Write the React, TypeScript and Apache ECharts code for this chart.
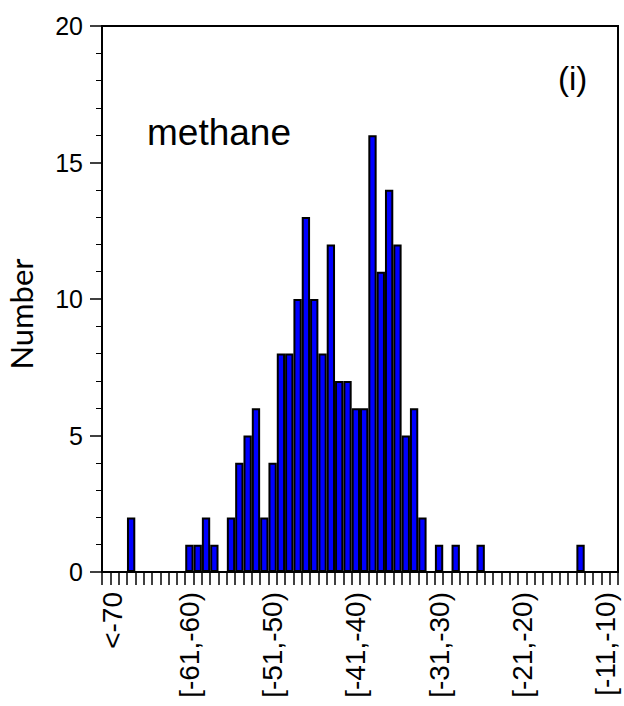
import React, { useEffect, useRef } from "react";
import * as echarts from "echarts";

// Histogram bins (1-unit wide classes)
const binLabels: string[] = [
  "<-70",
  "[-70,-69)", "[-69,-68)", "[-68,-67)", "[-67,-66)", "[-66,-65)",
  "[-65,-64)", "[-64,-63)", "[-63,-62)", "[-62,-61)", "[-61,-60)",
  "[-60,-59)", "[-59,-58)", "[-58,-57)", "[-57,-56)", "[-56,-55)",
  "[-55,-54)", "[-54,-53)", "[-53,-52)", "[-52,-51)", "[-51,-50)",
  "[-50,-49)", "[-49,-48)", "[-48,-47)", "[-47,-46)", "[-46,-45)",
  "[-45,-44)", "[-44,-43)", "[-43,-42)", "[-42,-41)", "[-41,-40)",
  "[-40,-39)", "[-39,-38)", "[-38,-37)", "[-37,-36)", "[-36,-35)",
  "[-35,-34)", "[-34,-33)", "[-33,-32)", "[-32,-31)", "[-31,-30)",
  "[-30,-29)", "[-29,-28)", "[-28,-27)", "[-27,-26)", "[-26,-25)",
  "[-25,-24)", "[-24,-23)", "[-23,-22)", "[-22,-21)", "[-21,-20)",
  "[-20,-19)", "[-19,-18)", "[-18,-17)", "[-17,-16)", "[-16,-15)",
  "[-15,-14)", "[-14,-13)", "[-13,-12)", "[-12,-11)", "[-11,-10)",
  "≥-10",
];

// Number of samples in each bin (methane)
const methaneCounts: number[] = [
  0, 0, 0, 2, 0, 0, 0, 0, 0, 0,
  1, 1, 2, 1, 0, 2, 4, 5, 6, 2,
  4, 8, 8, 10, 13, 10, 8, 12, 7, 7,
  6, 6, 16, 11, 14, 12, 5, 6, 2, 0,
  1, 0, 1, 0, 0, 1, 0, 0, 0, 0,
  0, 0, 0, 0, 0, 0, 0, 1, 0, 0,
  0, 0,
];

const yMin = 0;
const yMax = 20;
const yInterval = 5;

const panelTitle = "methane";
const panelTag = "(i)";
const yAxisTitle = "Number";

const SANS = "'Liberation Sans', Arial, Helvetica, sans-serif";

export default function App() {
  const ref = useRef<HTMLDivElement>(null);

  useEffect(() => {
    if (!ref.current) return;
    const chart = echarts.init(ref.current, undefined, { renderer: "svg" });
    chart.setOption({
      animation: false,
      backgroundColor: "#ffffff",
      grid: {
        left: 102,
        right: 6,
        top: 26,
        bottom: 134,
        show: true,
        borderColor: "#000",
        borderWidth: 2,
        backgroundColor: "transparent",
      },
      xAxis: {
        type: "category",
        data: binLabels,
        boundaryGap: true,
        axisLine: { show: true, lineStyle: { color: "#000", width: 2 } },
        axisTick: {
          show: true,
          interval: 0,
          length: 13,
          lineStyle: { color: "#000", width: 1.5 },
        },
        axisLabel: {
          interval: 9,
          rotate: 90,
          margin: 20,
          color: "#000",
          fontFamily: SANS,
          fontSize: 28,
          formatter: (value: string, index: number) =>
            index === 0 ? `{first|${value}}` : value,
          rich: {
            first: {
              padding: [12, 0, 0, 0],
              color: "#000",
              fontFamily: SANS,
              fontSize: 28,
            },
          },
        },
        splitLine: { show: false },
      },
      yAxis: {
        type: "value",
        min: yMin,
        max: yMax,
        interval: yInterval,
        axisLine: { show: true, lineStyle: { color: "#000", width: 2 } },
        axisTick: {
          show: true,
          length: 12,
          lineStyle: { color: "#000", width: 1.5 },
        },
        minorTick: {
          show: true,
          splitNumber: 5,
          length: 6,
          lineStyle: { color: "#000", width: 1 },
        },
        axisLabel: {
          margin: 19,
          color: "#000",
          fontFamily: SANS,
          fontSize: 25,
        },
        splitLine: { show: false },
        minorSplitLine: { show: false },
      },
      series: [
        {
          type: "bar",
          data: methaneCounts,
          barCategoryGap: "0%",
          itemStyle: {
            color: "#0000ff",
            borderColor: "#000",
            borderWidth: 2,
          },
        },
      ],
      graphic: [
        {
          type: "text",
          x: 147,
          y: 132,
          style: {
            text: panelTitle,
            font: `37px ${SANS}`,
            fill: "#000",
            align: "left",
            verticalAlign: "middle",
          },
        },
        {
          type: "text",
          x: 558,
          y: 78,
          style: {
            text: panelTag,
            font: `33px ${SANS}`,
            fill: "#000",
            align: "left",
            verticalAlign: "middle",
          },
        },
        {
          type: "text",
          x: 21,
          y: 314,
          rotation: Math.PI / 2,
          style: {
            text: yAxisTitle,
            font: `31px Lato, 'Open Sans', sans-serif`,
            fill: "#000",
            align: "center",
            verticalAlign: "middle",
          },
        },
      ],
    });
    return () => chart.dispose();
  }, []);

  return (
    <div
      ref={ref}
      style={{ position: "fixed", left: 0, top: 0, width: 624, height: 706, background: "#fff" }}
    />
  );
}
